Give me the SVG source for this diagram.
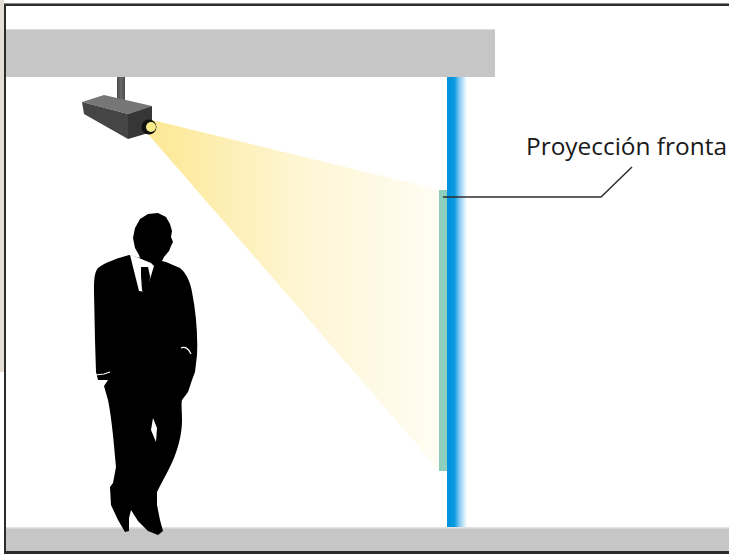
<svg xmlns="http://www.w3.org/2000/svg" width="729" height="554" viewBox="0 0 729 554">
  <defs>
    <linearGradient id="beam" gradientUnits="userSpaceOnUse" x1="150" y1="0" x2="440" y2="0">
      <stop offset="0" stop-color="#fce894"/>
      <stop offset="0.5" stop-color="#fef5d2"/>
      <stop offset="1" stop-color="#fffdf4"/>
    </linearGradient>
    <linearGradient id="screen" gradientUnits="userSpaceOnUse" x1="447" y1="0" x2="467" y2="0">
      <stop offset="0" stop-color="#0090dc"/>
      <stop offset="0.38" stop-color="#0a9be3"/>
      <stop offset="0.62" stop-color="#86c9f1"/>
      <stop offset="1" stop-color="#ffffff"/>
    </linearGradient>
    <linearGradient id="pole" gradientUnits="userSpaceOnUse" x1="117" y1="0" x2="125" y2="0">
      <stop offset="0" stop-color="#4a4a4a"/>
      <stop offset="0.5" stop-color="#6a6a6a"/>
      <stop offset="1" stop-color="#4a4a4a"/>
    </linearGradient>
  </defs>
  <style>
    .slab { fill: #c6c6c6; }
    .edge { fill: #2b2b2b; }
    .label { font-family: "Open Sans", "Liberation Sans", sans-serif; font-size: 24px; fill: #1a1a1a; }
    .leader { fill: none; stroke: #2e2e2e; stroke-width: 1.5; }
  </style>

  <rect width="729" height="554" fill="#ffffff"/>

  <!-- frame -->
  <rect x="0" y="0" width="4" height="372" fill="#e4ded7"/>
  <rect x="4" y="3" width="725" height="1" fill="#8a8a8a"/>
  <rect x="4" y="4" width="725" height="2" class="edge"/>
  <rect x="4" y="4" width="2" height="550" class="edge"/>
  <rect x="4" y="551" width="725" height="3" class="edge"/>

  <!-- ceiling and floor -->
  <g id="ceiling">
    <rect x="6" y="29" width="489" height="48" class="slab"/>
    <rect x="6" y="29" width="489" height="1" fill="#dcdcdc"/>
  </g>
  <g id="floor">
    <rect x="6" y="527" width="723" height="24" class="slab"/>
    <rect x="6" y="527" width="723" height="1.5" fill="#e2e2e2"/>
  </g>

  <!-- light beam -->
  <g id="beam-light">
    <polygon points="152,120 440,190 440,471 148,134" fill="url(#beam)"/>
  </g>

  <!-- projection screen on the wall -->
  <g id="screen-wall">
    <rect x="447" y="77" width="20" height="450" fill="url(#screen)"/>
    <rect x="439" y="190" width="8" height="281" fill="#8ccfbe"/>
  </g>

  <!-- ceiling projector -->
  <g id="projector">
    <rect x="117" y="77" width="8" height="28" fill="url(#pole)"/>
    <polygon points="82,102 104,95 152,106 128,114" fill="#767676"/>
    <polygon points="82,102 128,114 128,139 84,114" fill="#454545"/>
    <polygon points="128,114 152,106 152,132 128,139" fill="#363636"/>
    <circle cx="149" cy="127" r="7.5" fill="#111111"/>
    <circle cx="151" cy="127" r="5" fill="#f6ec8c"/>
  </g>

  <!-- standing man -->
  <g id="person">
    <path fill="#000000" d="M140,258 L129,255 C118,258 106,262 98,268 C94,273 94,281 94,292 L95,340 L96,372 L98,380 L108,380 L104,386 L108,400 C112,420 114,445 116,467 L113,483 L110,487 L111,505 L118,520 L125,532 L129,531 L129,518 L131,510 L138,521 L148,531 L158,535 L163,531 L160,520 L157,505 L157,492 C163,480 170,468 174,458 C179,445 182,433 182,420 C182,410 181,404 182,400 L188,392 L192,380 L195,372 L197,355 C198,335 196,312 192,292 C190,281 186,273 180,268 L166,262 L162,261 L164,257 L169,251 L171,246 L173,242 L171,237 L172,231 L170,224 L166,217 L158,213 L148,214 L140,219 L135,228 L133,238 L135,248 L139,255 Z"/>
    <polygon points="130,255 134,256 151,263 154,266 146,292 139,291" fill="#ffffff"/>
    <polygon points="141,267 148,267 150,276 149,290 145,296 142,290 141,276" fill="#000000"/>
    <polyline points="95,375 104,374 110,372" fill="none" stroke="#ffffff" stroke-width="1.2"/>
    <path d="M181,348 C185,346 189,349 191,354" fill="none" stroke="#ffffff" stroke-width="1.2"/>
    <polygon points="153,418 157,428 156,442 151,430" fill="#ffffff"/>
  </g>

  <!-- label and leader -->
  <g id="connectors">
    <polyline class="leader" points="443,197 601,197 632,167"/>
  </g>
  <g id="label-frontal">
    <text class="label" x="526" y="155" textLength="201" lengthAdjust="spacingAndGlyphs">Proyección fronta</text>
  </g>
</svg>
